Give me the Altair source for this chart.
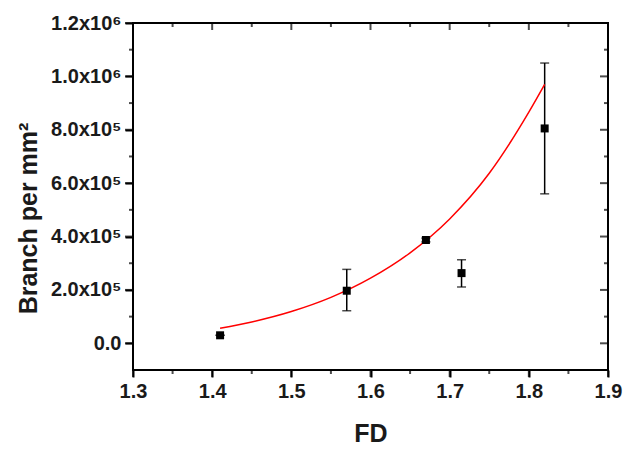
import altair as alt
import pandas as pd

# ---- data ----
fd = [1.41, 1.57, 1.67, 1.715, 1.82]
branch = [3.0e4, 1.97e5, 3.87e5, 2.63e5, 8.05e5]
err_lo = [3.0e4, 1.22e5, 3.80e5, 2.11e5, 5.60e5]
err_hi = [3.0e4, 2.77e5, 3.94e5, 3.13e5, 1.05e6]

fit_fd = [1.41, 1.45, 1.50, 1.55, 1.60, 1.65, 1.70, 1.75, 1.80, 1.82]
fit_branch = [5.6e4, 8.0e4, 1.19e5, 1.72e5, 2.44e5, 3.39e5, 4.66e5, 6.37e5, 8.66e5, 9.7e5]

x_major = [1.3, 1.4, 1.5, 1.6, 1.7, 1.8, 1.9]
x_labels = ["1.3", "1.4", "1.5", "1.6", "1.7", "1.8", "1.9"]
x_minor = [1.35, 1.45, 1.55, 1.65, 1.75, 1.85]
y_major = [0, 2e5, 4e5, 6e5, 8e5, 1e6, 1.2e6]
y_labels = ["0.0", "2.0x10⁵", "4.0x10⁵", "6.0x10⁵", "8.0x10⁵", "1.0x10⁶", "1.2x10⁶"]
y_minor = [1e5, 3e5, 5e5, 7e5, 9e5, 1.1e6]

x_domain = [1.3, 1.9]
y_domain = [-1e5, 1.2e6]

pts = pd.DataFrame({"fd": fd, "branch": branch, "lo": err_lo, "hi": err_hi})
fit = pd.DataFrame({"fd": fit_fd, "branch": fit_branch})

W, H = 475, 347
FONT = "Liberation Sans"
MAJ_X, MAJ_Y, MIN = 7, 8, 4

xs = alt.Scale(domain=x_domain, nice=False, zero=False)
ys = alt.Scale(domain=y_domain, nice=False, zero=False)

x_label_expr = "[" + ",".join("'" + s + "'" for s in x_labels) + "][round((datum.value-1.3)*10)]"
y_label_expr = "[" + ",".join("'" + s + "'" for s in y_labels) + "][round(datum.value/200000)]"

tick_style = dict(domain=False, grid=False, ticks=True,
                  tickWidth=2, tickColor="#000000", tickOpacity=1)

x_axis = alt.Axis(
    orient="bottom", values=x_major, tickSize=MAJ_X, **tick_style,
    labelExpr=x_label_expr,
    labelFont=FONT, labelFontSize=20, labelFontWeight="bold", labelColor="#1a1a1a",
    labelPadding=4, labelFlush=False, labelOverlap=False,
    title="FD", titleFont=FONT, titleFontSize=25, titleFontWeight="bold",
    titleColor="#1a1a1a", titleBaseline="alphabetic", titleY=71,
)
y_axis = alt.Axis(
    orient="left", values=y_major, tickSize=MAJ_Y, **tick_style,
    labelExpr=y_label_expr,
    labelFont=FONT, labelFontSize=20, labelFontWeight="bold", labelColor="#1a1a1a",
    labelPadding=4, labelFlush=False, labelOverlap=False,
    title="Branch per mm²", titleFont=FONT, titleFontSize=25, titleFontWeight="bold",
    titleColor="#1a1a1a", titleBaseline="alphabetic", titleX=-97, titleY=195,
)

NOX = alt.X("fd:Q", scale=xs, axis=None)

bars = alt.Chart(pts).mark_rule(color="black", strokeWidth=1.5).encode(
    x=NOX, y=alt.Y("lo:Q", scale=ys, axis=None), y2="hi:Q")
cap_hi = alt.Chart(pts).mark_tick(color="black", orient="horizontal", size=9, thickness=1.5).encode(
    x=NOX, y=alt.Y("hi:Q", scale=ys, axis=None))
cap_lo = alt.Chart(pts).mark_tick(color="black", orient="horizontal", size=9, thickness=1.5).encode(
    x=NOX, y=alt.Y("lo:Q", scale=ys, axis=None))
line = alt.Chart(fit).mark_line(color="#ff0000", strokeWidth=1.5, interpolate="monotone").encode(
    x=NOX, y=alt.Y("branch:Q", scale=ys, axis=None))
points = alt.Chart(pts).mark_point(shape="square", filled=True, color="black", size=64, opacity=1).encode(
    x=alt.X("fd:Q", scale=xs, axis=x_axis), y=alt.Y("branch:Q", scale=ys, axis=y_axis))


# ---- frame tick marks, placed through the scales from the tick lists ----
def x_ticks_layer(values, at, size, shift):
    df = pd.DataFrame({"fd": values, "branch": [at] * len(values)})
    return alt.Chart(df).mark_tick(color="black", orient="vertical", size=size,
                                   thickness=2, yOffset=shift).encode(
        x=NOX, y=alt.Y("branch:Q", scale=ys, axis=None))


def y_ticks_layer(values, at, size, shift):
    df = pd.DataFrame({"fd": [at] * len(values), "branch": values})
    return alt.Chart(df).mark_tick(color="black", orient="horizontal", size=size,
                                   thickness=2, xOffset=shift).encode(
        x=NOX, y=alt.Y("branch:Q", scale=ys, axis=None))


tick_layers = [
    x_ticks_layer(x_major, y_domain[0], MAJ_X, MAJ_X / 2),     # bottom, outward
    x_ticks_layer(x_minor, y_domain[0], MIN, MIN / 2),
    x_ticks_layer(x_major, y_domain[1], MAJ_X, MAJ_X / 2),     # top, inward
    x_ticks_layer(x_minor, y_domain[1], MIN, MIN / 2),
    y_ticks_layer(y_major, x_domain[0], MAJ_Y, -MAJ_Y / 2),    # left, outward
    y_ticks_layer(y_minor, x_domain[0], MIN, -MIN / 2),
    y_ticks_layer(y_major, x_domain[1], MAJ_Y, -MAJ_Y / 2),    # right, inward
    y_ticks_layer(y_minor, x_domain[1], MIN, -MIN / 2),
]

chart = alt.layer(bars, cap_hi, cap_lo, line, points, *tick_layers).resolve_axis(
    x="independent", y="independent"
).properties(
    width=W, height=H,
    padding={"left": 16, "top": 13, "right": 5, "bottom": 5},
).configure_view(stroke="black", strokeWidth=2)

chart.save("out.html", embed_options={"renderer": "svg", "actions": False})
